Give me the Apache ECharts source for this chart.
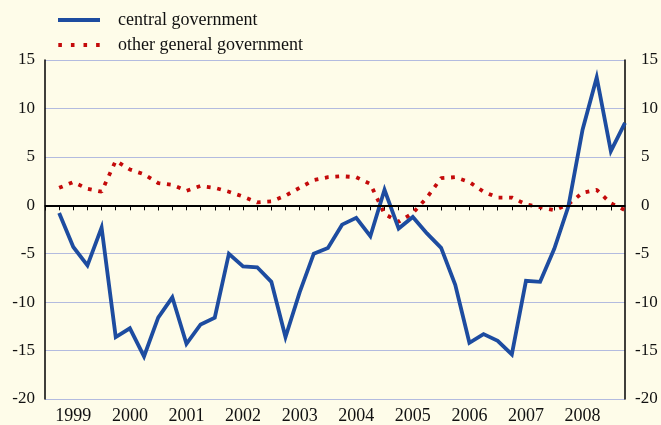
<!DOCTYPE html>
<html>
<head>
<meta charset="utf-8">
<script src="https://cdn.jsdelivr.net/npm/echarts@6/dist/echarts.min.js"></script>
<style>
  html, body { margin: 0; padding: 0; background: #fefce9; }
  #chart { width: 661px; height: 425px; }
</style>
</head>
<body>
<div id="chart"></div>
<script>
// Quarterly balances, 1999 Q1 to 2009 Q1 (% of GDP)
const years = ['1999', '2000', '2001', '2002', '2003', '2004', '2005', '2006', '2007', '2008'];

const centralGov = [
  -0.8, -4.3, -6.2, -2.3,
  -13.6, -12.7, -15.6, -11.6,
  -9.5, -14.3, -12.3, -11.6,
  -5.0, -6.3, -6.4, -7.9,
  -13.6, -9.0, -5.0, -4.4,
  -2.0, -1.3, -3.2, 1.6,
  -2.4, -1.2, -2.9, -4.4,
  -8.2, -14.2, -13.3, -14.0,
  -15.4, -7.8, -7.9, -4.5,
  -0.1, 7.8, 13.2, 5.6,
  8.5
];

const otherGenGov = [
  1.8, 2.4, 1.7, 1.4,
  4.6, 3.7, 3.2, 2.3,
  2.1, 1.5, 2.0, 1.8,
  1.4, 0.9, 0.3, 0.4,
  1.0, 1.8, 2.6, 2.9,
  3.0, 2.9, 2.2, -0.9,
  -1.7, -0.8, 0.8, 2.8,
  2.9, 2.4, 1.4, 0.8,
  0.8, 0.1, -0.2, -0.5,
  0.1, 1.3, 1.6, 0.2,
  -0.5
];

// quarter index: 0 is the start of 1999, each data point sits at the end of its quarter
const toPairs = arr => arr.map((v, i) => [i + 1, v]);
const quarterTicks = Array.from({ length: 41 }, (_, i) => i);
const yearTicks = years.map((_, i) => i * 4).concat([40]);
const yearLabelPos = years.map((_, i) => i * 4 + 2);

const serif = '"Liberation Serif", "DejaVu Serif", serif';
const gridBlue = '#b3bbdf';

// legend keys: a solid bar and a row of four square dots
const solidKey = 'path://M0,0H42V4H0Z';
const dottedKey = 'path://M0,0H3.6V4H0Z M12.6,0H16.2V4H12.6Z M25.2,0H28.8V4H25.2Z M37.8,0H41.4V4H37.8Z';

const chart = echarts.init(document.getElementById('chart'));
chart.setOption({
  backgroundColor: '#fefce9',
  animation: false,
  grid: { left: 45, right: 36, top: 60, bottom: 22.5, containLabel: false },
  legend: {
    orient: 'vertical',
    left: 53,
    top: 6,
    itemWidth: 42,
    itemHeight: 4,
    itemGap: 7,
    textStyle: { fontFamily: serif, fontSize: 18, color: '#111', padding: [0, 0, 0, 13] },
    data: [
      { name: 'central government', icon: solidKey },
      { name: 'other general government', icon: dottedKey }
    ]
  },
  xAxis: [
    {
      type: 'value',
      min: 0,
      max: 41,
      position: 'bottom',
      axisLine: { show: true, lineStyle: { color: '#000', width: 1.5 } },
      axisTick: { show: true, customValues: quarterTicks, length: 5, lineStyle: { color: '#000', width: 1 } },
      axisLabel: {
        customValues: yearLabelPos,
        formatter: v => years[(v - 2) / 4],
        margin: 8,
        fontFamily: serif,
        fontSize: 18,
        color: '#111'
      },
      splitLine: { show: false }
    },
    {
      type: 'value',
      min: 0,
      max: 41,
      position: 'bottom',
      offset: 5,
      axisLine: { show: false },
      axisTick: { show: true, customValues: yearTicks, length: 5, lineStyle: { color: '#000', width: 1 } },
      axisLabel: { show: false },
      splitLine: { show: false }
    }
  ],
  yAxis: [
    {
      type: 'value',
      position: 'left',
      min: -20,
      max: 15,
      interval: 5,
      axisLine: { show: true, onZero: false, lineStyle: { color: '#000', width: 1.5 } },
      axisTick: { show: false },
      axisLabel: { margin: 10, fontFamily: serif, fontSize: 17, color: '#111' },
      splitLine: { show: true, lineStyle: { color: gridBlue, width: 1.2 } }
    },
    {
      type: 'value',
      position: 'right',
      min: -20,
      max: 15,
      interval: 5,
      axisLine: { show: true, onZero: false, lineStyle: { color: '#000', width: 1.5 } },
      axisTick: { show: false },
      axisLabel: {
        margin: 10,
        align: 'left',
        formatter: v => (v < 0 ? '{n|' + v + '}' : '{p|' + v + '}'),
        rich: {
          n: { fontFamily: serif, fontSize: 17, color: '#111' },
          p: { fontFamily: serif, fontSize: 17, color: '#111', padding: [0, 0, 0, 6] }
        }
      },
      splitLine: { show: false }
    }
  ],
  series: [
    {
      name: 'other general government',
      type: 'line',
      data: toPairs(otherGenGov),
      showSymbol: false,
      symbol: 'none',
      color: '#c40a0a',
      lineStyle: { color: '#c40a0a', width: 3.8, type: [3.8, 6.7], cap: 'butt' },
      z: 3,
      markLine: {
        silent: true,
        symbol: 'none',
        label: { show: false },
        lineStyle: { color: '#000', width: 2, type: 'solid' },
        data: [{ yAxis: 0 }]
      }
    },
    {
      name: 'central government',
      type: 'line',
      data: toPairs(centralGov),
      showSymbol: false,
      symbol: 'none',
      color: '#1d4ca0',
      lineStyle: { color: '#1d4ca0', width: 3.8, join: 'miter' },
      z: 4
    }
  ]
});
</script>
</body>
</html>
